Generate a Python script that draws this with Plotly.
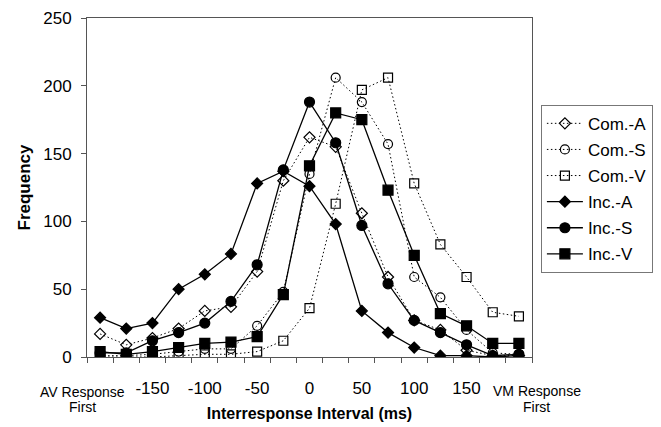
import plotly.graph_objects as go

# Interresponse interval bins (ms); the outer bins are the "AV/VM Response First" categories
intervals = [-200, -175, -150, -125, -100, -75, -50, -25, 0, 25, 50, 75, 100, 125, 150, 175, 200]
tick_values = [-150, -100, -50, 0, 50, 100, 150]
tick_labels = ["-150", "-100", "-50", "0", "50", "100", "150"]

com_a = [17, 9, 14, 21, 34, 37, 63, 130, 162, 155, 106, 59, 27, 20, 5, 1, 1]
com_s = [1, 1, 2, 4, 6, 6, 23, 48, 135, 206, 188, 157, 59, 44, 20, 3, 2]
com_v = [0, 0, 0, 1, 2, 2, 4, 12, 36, 113, 197, 206, 128, 83, 59, 33, 30]
inc_a = [29, 21, 25, 50, 61, 76, 128, 137, 126, 98, 34, 18, 7, 1, 1, 0, 1]
inc_s = [3, 3, 12, 18, 25, 41, 68, 138, 188, 158, 97, 54, 27, 18, 9, 1, 2]
inc_v = [4, 2, 4, 7, 10, 11, 15, 46, 141, 180, 175, 123, 75, 32, 23, 10, 10]

FONT = "Liberation Sans, Arial, sans-serif"

series = [
    ("Com.-A", com_a, "diamond-open", 8.5, "1.5px,2.5px", 1),
    ("Com.-S", com_s, "circle-open", 9, "1.5px,2.5px", 1),
    ("Com.-V", com_v, "square-open", 9, "1.5px,2.5px", 1),
    ("Inc.-A", inc_a, "diamond", 8.5, "solid", 1.3),
    ("Inc.-S", inc_s, "circle", 10, "solid", 1.3),
    ("Inc.-V", inc_v, "square", 10, "solid", 1.3),
]

fig = go.Figure()
for name, vals, sym, size, dash, lw in series:
    fig.add_trace(go.Scatter(
        x=intervals, y=vals, name=name, mode="lines+markers",
        line=dict(color="black", width=lw, dash=dash),
        marker=dict(symbol=sym, size=size, color="black",
                    line=dict(color="black", width=1.2)),
        legendgroup=name,
    ))

fig.update_layout(
    width=661, height=427,
    margin=dict(l=87, r=129, t=18, b=70, autoexpand=False),
    paper_bgcolor="white", plot_bgcolor="white",
    font=dict(family=FONT, size=17, color="black"),
    showlegend=True,
    legend=dict(
        x=1.02, y=0.744, xanchor="left", yanchor="top",
        bordercolor="#777", borderwidth=1,
        font=dict(family=FONT, size=17, color="black"),
        itemwidth=36, traceorder="grouped", tracegroupgap=1,
    ),
    xaxis=dict(
        range=[-212.5, 212.5],
        tickmode="array", tickvals=tick_values, ticktext=tick_labels,
        ticks="", ticklabelstandoff=16,
        minor=dict(tickmode="array",
                   tickvals=[-212.5 + 25 * k for k in range(18)],
                   ticks="outside", ticklen=5, tickcolor="#555", tickwidth=1),
        showline=True, linecolor="#555", linewidth=1, mirror=True,
        showgrid=False, zeroline=False,
        tickfont=dict(family=FONT, size=17),
        title=dict(text="<b>Interresponse Interval (ms)</b>",
                   font=dict(family=FONT, size=16), standoff=10),
        automargin=False,
    ),
    yaxis=dict(
        range=[0, 250], tickmode="linear", tick0=0, dtick=50,
        ticks="outside", ticklen=5, tickcolor="#555",
        ticklabelstandoff=6,
        showline=True, linecolor="#555", linewidth=1, mirror=True,
        showgrid=False, zeroline=False,
        tickfont=dict(family=FONT, size=17),
        title=dict(text="<b>Frequency</b>",
                   font=dict(family=FONT, size=17), standoff=8),
        automargin=False,
    ),
    annotations=[
        dict(text="AV Response", x=-0.011, y=-0.103, xref="paper", yref="paper",
             showarrow=False, font=dict(family=FONT, size=14), xanchor="center", yanchor="middle"),
        dict(text="First", x=-0.011, y=-0.147, xref="paper", yref="paper",
             showarrow=False, font=dict(family=FONT, size=14), xanchor="center", yanchor="middle"),
        dict(text="VM Response", x=1.011, y=-0.100, xref="paper", yref="paper",
             showarrow=False, font=dict(family=FONT, size=14), xanchor="center", yanchor="middle"),
        dict(text="First", x=1.011, y=-0.147, xref="paper", yref="paper",
             showarrow=False, font=dict(family=FONT, size=14), xanchor="center", yanchor="middle"),
    ],
)

fig.write_html("out.html")
